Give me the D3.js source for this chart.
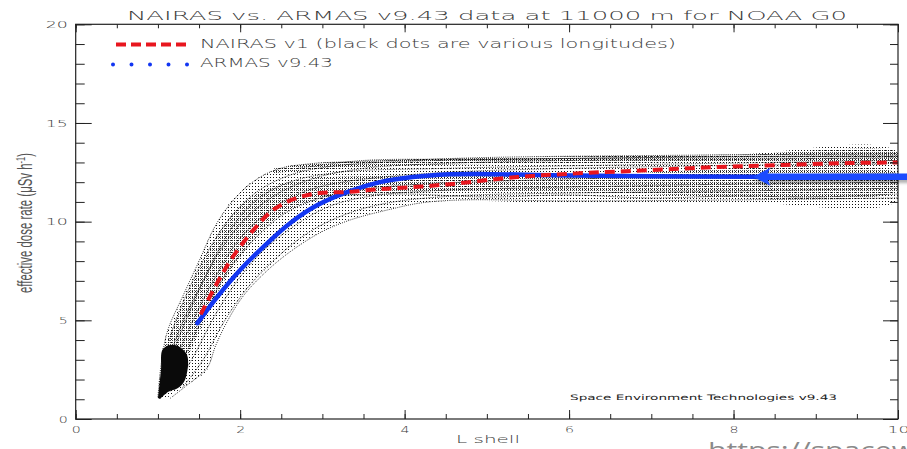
<!DOCTYPE html>
<html><head><meta charset="utf-8">
<script src="https://cdn.jsdelivr.net/npm/d3@7"></script>
<style>body{margin:0;background:#fff;} svg{display:block;}</style>
</head><body>
<svg id="c" width="907" height="449"></svg>
<script>
// ---------- data ----------
const chartTitle = "NAIRAS vs. ARMAS v9.43 data at 11000 m for NOAA G0";
const xTickValues = [0, 2, 4, 6, 8, 10];
const yTickValues = [0, 5, 10, 15, 20];
const legendLabels = ["NAIRAS v1 (black dots are various longitudes)", "ARMAS v9.43"];
const creditText = "Space Environment Technologies v9.43";
const watermarkText = "https://spacew";

const nairasL    = [1.52, 1.72, 1.91, 2.16, 2.4, 2.69, 2.97, 3.3, 3.7, 4.1, 4.55, 5.37, 6.17, 6.98, 7.8, 8.6, 9.42, 10.0];
const nairasDose = [5.3, 6.89, 8.21, 9.57, 10.59, 11.2, 11.45, 11.5, 11.65, 11.75, 11.9, 12.26, 12.46, 12.61, 12.77, 12.87, 12.97, 13.0];

const armasL    = [1.48, 1.72, 2.0, 2.28, 2.61, 2.94, 3.3, 3.7, 4.1, 4.55, 4.92, 5.77, 6.98, 8.26, 9.0, 10.0];
const armasDose = [4.86, 6.18, 7.55, 8.71, 9.93, 10.84, 11.5, 12.0, 12.26, 12.4, 12.42, 12.35, 12.3, 12.27, 12.25, 12.25];

// envelope of the longitude cloud
const cloudUpperL    = [1.0, 1.03, 1.06, 1.12, 1.2, 1.4, 1.6, 1.8, 1.9, 2.1, 2.3, 2.5, 2.9, 3.3, 4.5, 6, 8, 10];
const cloudUpperDose = [1.05, 2.5, 3.65, 4.5, 5.2, 7.0, 9.0, 10.5, 11.1, 11.9, 12.4, 12.75, 12.97, 13.02, 13.22, 13.3, 13.4, 13.5];
const cloudLowerL    = [1.1, 1.3, 1.6, 1.67, 1.8, 2.0, 2.3, 2.6, 2.95, 3.3, 3.75, 4.15, 4.6, 6, 8, 10];
const cloudLowerDose = [1.05, 1.6, 2.5, 3.65, 4.86, 6.18, 7.55, 8.56, 9.42, 10.08, 10.59, 10.94, 11.05, 10.95, 11.0, 11.1];

// dense core of the cloud (rise part, along NAIRAS)
const coreUpperL    = [1.08, 1.3, 1.55, 1.8, 2.05, 2.4, 2.9, 3.5, 4.5, 6, 10];
const coreUpperDose = [3.6, 5.8, 8.0, 9.8, 11.0, 11.8, 12.2, 12.3, 12.3, 12.35, 12.4];
const coreLowerL    = [1.25, 1.5, 1.75, 2.0, 2.3, 2.7, 3.1, 3.6, 4.5, 6, 10];
const coreLowerDose = [2.2, 4.4, 6.6, 8.2, 9.7, 10.8, 11.2, 11.4, 11.5, 11.5, 11.6];

// dense top band of the plateau
const topBandL     = [2.4, 3.0, 4.0, 6.0, 8.0, 10.0];
const topBandUpper = [12.7, 12.97, 13.15, 13.3, 13.4, 13.5];
const topBandLower = [12.45, 12.65, 12.85, 12.95, 13.05, 13.1];

// dark blob at low L
const blobL    = [1.001, 1.037, 1.061, 1.207, 1.354, 1.329, 1.244, 1.122, 1.025];
const blobDose = [1.06, 2.48, 3.55, 3.75, 3.24, 1.98, 1.57, 1.37, 1.01];

// individual longitude tracks [L, dose]
const longitudeTracks = [
  [[1.0,1.1],[1.04,2.8],[1.12,4.5],[1.3,6.2],[1.5,8.0],[1.7,9.8],[1.9,11.0],[2.15,12.0],[2.45,12.65],[2.9,12.95],[3.6,13.05],[5,13.25],[7,13.35],[10,13.45]],
  [[1.02,1.1],[1.08,3.0],[1.2,4.8],[1.4,6.8],[1.65,8.8],[1.9,10.3],[2.2,11.5],[2.6,12.35],[3.1,12.8],[4,13.05],[6,13.2],[8,13.3],[10,13.35]],
  [[1.05,1.2],[1.15,3.2],[1.3,4.9],[1.55,7.0],[1.8,8.8],[2.1,10.3],[2.45,11.4],[2.9,12.2],[3.5,12.7],[4.5,12.95],[6,13.1],[8,13.15],[10,13.25]],
  [[1.1,1.3],[1.25,3.3],[1.45,5.2],[1.7,7.2],[1.95,8.9],[2.25,10.2],[2.6,11.2],[3.0,11.8],[3.6,12.2],[4.5,12.5],[6,12.7],[8,12.85],[10,12.95]],
  [[1.15,1.4],[1.35,3.4],[1.6,5.6],[1.85,7.5],[2.15,9.0],[2.5,10.3],[2.9,11.1],[3.4,11.6],[4.2,11.9],[5.5,12.1],[7.5,12.3],[10,12.45]],
  [[1.2,1.5],[1.45,3.3],[1.7,5.3],[2.0,7.2],[2.3,8.6],[2.7,9.9],[3.1,10.8],[3.6,11.3],[4.5,11.6],[6,11.75],[8,11.9],[10,12.0]],
  [[1.3,1.6],[1.55,3.0],[1.8,4.9],[2.1,6.7],[2.45,8.2],[2.85,9.5],[3.3,10.4],[3.8,10.95],[4.6,11.3],[6,11.45],[8,11.55],[10,11.7]],
  [[1.15,1.05],[1.35,1.7],[1.6,2.6],[1.7,3.7],[1.85,5.0],[2.05,6.3],[2.35,7.6],[2.65,8.6],[3.0,9.5],[3.35,10.1],[3.8,10.6],[4.2,10.95],[4.7,11.1],[6,11.05],[8,11.1],[10,11.2]],
  [[3.0,11.3],[4,11.4],[5,11.25],[6,11.35],[7,11.2],[8,11.3],[9,11.25],[10,11.4]],
  [[2.7,12.7],[3.5,13.1],[5,13.15],[7,13.25],[10,13.3]],
  [[1.08,2.2],[1.3,4.6],[1.6,7.4],[1.9,9.7],[2.2,11.1],[2.6,12.0],[3.2,12.5],[4.5,12.7],[7,12.9],[10,13.1]]
];

// annotation arrow (data units)
const arrowFromL = 10.2, arrowToL = 8.24, arrowDose = 12.28;

// ---------- drawing ----------
const svg = d3.select("#c");
const x = d3.scaleLinear().domain([0, 10]).range([75.7, 898]);
const y = d3.scaleLinear().domain([0, 20]).range([419, 24.3]);

const defs = svg.append("defs");
defs.append("clipPath").attr("id", "plotclip").append("rect")
  .attr("x", x(0)).attr("y", y(20)).attr("width", x(10) - x(0)).attr("height", y(0) - y(20));
const pSparse = defs.append("pattern").attr("id", "sparse").attr("width", 3).attr("height", 3).attr("patternUnits", "userSpaceOnUse");
pSparse.append("rect").attr("width", 1).attr("height", 1).attr("fill", "#111");
const pDense = defs.append("pattern").attr("id", "dense").attr("width", 2).attr("height", 2).attr("patternUnits", "userSpaceOnUse");
pDense.append("rect").attr("width", 1).attr("height", 1).attr("fill", "#000");
const f = defs.append("filter").attr("id", "shadow").attr("x", "-10%").attr("y", "-50%").attr("width", "120%").attr("height", "250%");
f.append("feDropShadow").attr("dx", 0).attr("dy", 3).attr("stdDeviation", 1.5).attr("flood-color", "#000").attr("flood-opacity", 0.3);

const zip = (a, b) => a.map((v, i) => [v, b[i]]);
const lineSmooth = d3.line().x(d => x(d[0])).y(d => y(d[1])).curve(d3.curveCatmullRom.alpha(0.5));

const plot = svg.append("g").attr("clip-path", "url(#plotclip)");

// cloud envelope
const envelope = zip(cloudUpperL, cloudUpperDose).concat(zip(cloudLowerL, cloudLowerDose).reverse());
plot.append("path").attr("d", lineSmooth(envelope) + "Z").attr("fill", "url(#sparse)");
const core = zip(coreUpperL, coreUpperDose).concat(zip(coreLowerL, coreLowerDose).reverse());
plot.append("path").attr("d", lineSmooth(core) + "Z").attr("fill", "url(#dense)").attr("opacity", 0.7);
const topBand = zip(topBandL, topBandUpper).concat(zip(topBandL, topBandLower).reverse());
plot.append("path").attr("d", lineSmooth(topBand) + "Z").attr("fill", "url(#dense)").attr("opacity", 0.75);

// longitude tracks
plot.selectAll("path.track").data(longitudeTracks).enter().append("path").attr("class", "track")
  .attr("d", d => lineSmooth(d)).attr("fill", "none").attr("stroke", "#000")
  .attr("stroke-width", 0.8).attr("stroke-dasharray", "1,1.2");

// blob
plot.append("path").attr("d", lineSmooth(zip(blobL, blobDose)) + "Z").attr("fill", "#0a0a0a");

// ARMAS (blue) and NAIRAS (red)
plot.append("path").attr("d", lineSmooth(zip(armasL, armasDose))).attr("fill", "none")
  .attr("stroke", "#1236f2").attr("stroke-width", 4.5).attr("stroke-linecap", "round");
plot.append("path").attr("d", lineSmooth(zip(nairasL, nairasDose))).attr("fill", "none")
  .attr("stroke", "#e8161e").attr("stroke-width", 4).attr("stroke-dasharray", "10,6");

// frame
svg.append("rect").attr("x", x(0)).attr("y", y(20)).attr("width", x(10) - x(0)).attr("height", y(0) - y(20))
  .attr("fill", "none").attr("stroke", "#222").attr("stroke-width", 1.2);

// axes
const tickFont = "DejaVu Sans";
const textFill = "#3a3a3a";
function clean(g) { g.select(".domain").remove(); g.selectAll("line").attr("stroke", "#222").attr("stroke-width", 1); }
function stretch(g, fs) {
  g.selectAll("text").attr("font-family", tickFont).attr("font-size", fs).attr("font-weight", 200).attr("fill", textFill)
    .each(function(d) { const s = String(d); this.setAttribute("textLength", s.length * 9 + (s.length - 1) * 4); this.setAttribute("lengthAdjust", "spacingAndGlyphs"); });
}
const minorX = d3.range(0, 10.01, 0.5), minorY = d3.range(0, 20.01, 1);
// left
svg.append("g").attr("transform", `translate(${x(0)},0)`)
  .call(d3.axisLeft(y).tickValues(minorY).tickSizeInner(-9).tickSizeOuter(0).tickFormat("")).call(clean);
svg.append("g").attr("transform", `translate(${x(0)},0)`)
  .call(d3.axisLeft(y).tickValues(yTickValues).tickSizeInner(-16).tickSizeOuter(0).tickPadding(8))
  .call(clean).call(g => stretch(g, 9.5));
// right
svg.append("g").attr("transform", `translate(${x(10)},0)`)
  .call(d3.axisRight(y).tickValues(minorY).tickSizeInner(-8).tickSizeOuter(0).tickFormat("")).call(clean);
svg.append("g").attr("transform", `translate(${x(10)},0)`)
  .call(d3.axisRight(y).tickValues(yTickValues).tickSizeInner(-15).tickSizeOuter(0).tickFormat("")).call(clean);
// bottom
svg.append("g").attr("transform", `translate(0,${y(0)})`)
  .call(d3.axisBottom(x).tickValues(minorX).tickSizeInner(-5).tickSizeOuter(0).tickFormat("")).call(clean);
svg.append("g").attr("transform", `translate(0,${y(0)})`)
  .call(d3.axisBottom(x).tickValues(xTickValues).tickSizeInner(-9).tickSizeOuter(0).tickPadding(7))
  .call(clean).call(g => stretch(g, 9.5));
// top
svg.append("g").attr("transform", `translate(0,${y(20)})`)
  .call(d3.axisTop(x).tickValues(minorX).tickSizeInner(-4).tickSizeOuter(0).tickFormat("")).call(clean);
svg.append("g").attr("transform", `translate(0,${y(20)})`)
  .call(d3.axisTop(x).tickValues(xTickValues).tickSizeInner(-8).tickSizeOuter(0).tickFormat("")).call(clean);

// title
svg.append("text").attr("x", 487).attr("y", 20).attr("text-anchor", "middle")
  .attr("font-family", tickFont).attr("font-size", 12).attr("font-weight", 200).attr("fill", textFill)
  .attr("textLength", 720).attr("lengthAdjust", "spacingAndGlyphs").text(chartTitle);

// legend
svg.append("line").attr("x1", 116).attr("x2", 186).attr("y1", 44.5).attr("y2", 44.5)
  .attr("stroke", "#e8161e").attr("stroke-width", 4).attr("stroke-dasharray", "10,5");
svg.append("line").attr("x1", 113).attr("x2", 187.5).attr("y1", 64.5).attr("y2", 64.5)
  .attr("stroke", "#1236f2").attr("stroke-width", 4).attr("stroke-linecap", "round").attr("stroke-dasharray", "0,18.5");
svg.append("text").attr("x", 200).attr("y", 47.5).attr("font-family", tickFont).attr("font-size", 12).attr("font-weight", 200).attr("fill", textFill)
  .attr("textLength", 476).attr("lengthAdjust", "spacingAndGlyphs").text(legendLabels[0]);
svg.append("text").attr("x", 200).attr("y", 67).attr("font-family", tickFont).attr("font-size", 12).attr("font-weight", 200).attr("fill", textFill)
  .attr("textLength", 133).attr("lengthAdjust", "spacingAndGlyphs").text(legendLabels[1]);

// credit
svg.append("text").attr("x", 570).attr("y", 399.5).attr("font-family", tickFont).attr("font-size", 7.5).attr("fill", "#222")
  .attr("textLength", 267).attr("lengthAdjust", "spacingAndGlyphs").text(creditText);

// axis titles
svg.append("text").attr("x", 488).attr("y", 443).attr("text-anchor", "middle").attr("font-family", tickFont)
  .attr("font-size", 10).attr("font-weight", 200).attr("fill", textFill).attr("textLength", 64).attr("lengthAdjust", "spacingAndGlyphs").text("L shell");
const yl = svg.append("text").attr("transform", "translate(32,223) rotate(-90)").attr("text-anchor", "middle")
  .attr("font-family", "Liberation Sans").attr("font-size", 20).attr("fill", "#555")
  .attr("textLength", 140).attr("lengthAdjust", "spacingAndGlyphs");
yl.append("tspan").text("effective dose rate (\u03BCSv h");
yl.append("tspan").attr("dy", -7).attr("font-size", 13).text("-1");
yl.append("tspan").attr("dy", 7).text(")");

// annotation arrow
const ay = y(arrowDose);
const arrow = svg.append("g").attr("filter", "url(#shadow)");
arrow.append("line").attr("x1", x(arrowToL) + 12).attr("x2", x(arrowFromL)).attr("y1", ay).attr("y2", ay)
  .attr("stroke", "#1c4cff").attr("stroke-width", 6.5);
const tx = x(arrowToL);
arrow.append("path").attr("d", `M${tx},${ay} L${tx + 17},${ay - 9} L${tx + 13},${ay} L${tx + 17},${ay + 9} Z`).attr("fill", "#1c4cff");

// watermark
svg.append("text").attr("x", 708).attr("y", 458).attr("font-family", "Open Sans").attr("font-size", 22).attr("fill", "#8a8a8a")
  .attr("textLength", 207).attr("lengthAdjust", "spacingAndGlyphs").text(watermarkText);
</script>
</body></html>
